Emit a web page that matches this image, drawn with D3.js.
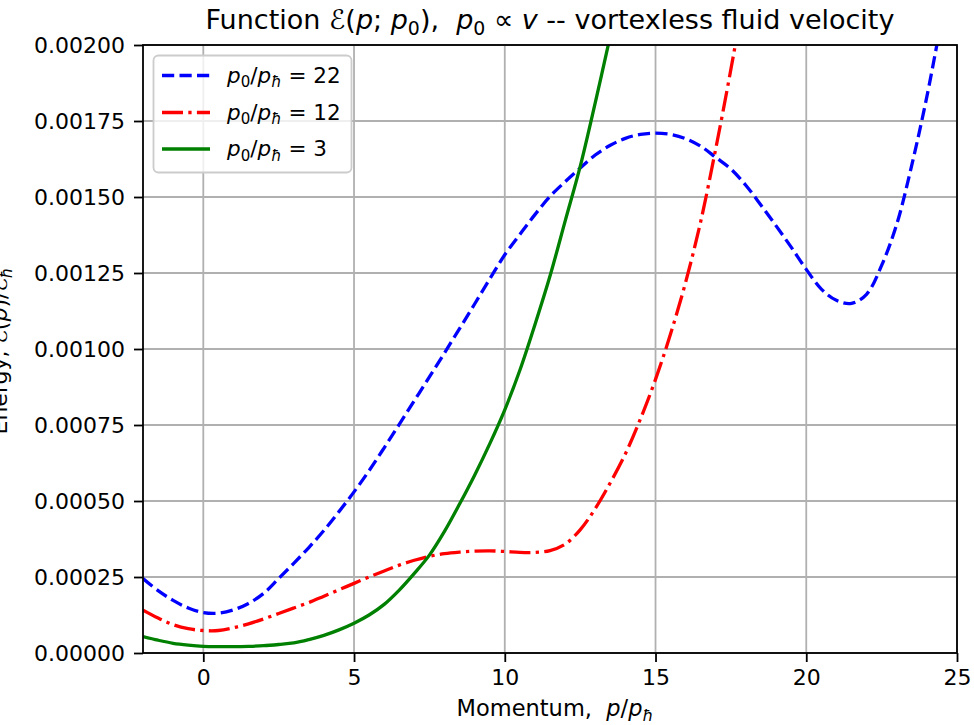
<!DOCTYPE html>
<html>
<head>
<meta charset="utf-8">
<script src="https://cdn.jsdelivr.net/npm/d3@7"></script>
<style>
  html, body { margin: 0; padding: 0; background: #fff; }
  svg { display: block; font-family: "DejaVu Sans", sans-serif; }
</style>
</head>
<body>
<svg id="chart" width="974" height="725"></svg>
<script>
// ---------- DATA ----------
const momentum = [-2,-1.5,-1,-0.5,0,0.5,1,1.5,2,2.5,3,3.5,4,4.5,5,5.5,6,6.5,7,7.5,8,8.5,9,9.5,10,10.5,11,11.5,12,12.5,13,13.5,14,14.5,15,15.5,16,16.5,17,17.5,18,18.5,19,19.5,20,20.5,21,21.5,22,22.5,23,23.5,24,24.5];

const energy22 = [0.000245,0.000205,0.000173,0.000148,0.000133,0.000131,0.000142,0.000163,0.000196,0.000245,0.000295,0.000347,0.000403,0.000465,0.000530,0.000600,0.000675,0.000752,0.000830,0.000908,0.000987,0.001067,0.001148,0.001230,0.001310,0.001377,0.001442,0.001502,0.001550,0.001595,0.001638,0.001670,0.001693,0.001706,0.001710,0.001706,0.001692,0.001667,0.001630,0.001592,0.001538,0.001473,0.001405,0.001335,0.001262,0.001197,0.001160,0.001150,0.001180,0.001275,0.001410,0.001605,0.001830,0.002090];

const momentum12 = momentum.filter(v => v <= 18);
const energy12 = [0.000141,0.000115,0.000093,0.000080,0.000074,0.000074,0.000083,0.000096,0.000112,0.000130,0.000148,0.000166,0.000187,0.000208,0.000229,0.000250,0.000270,0.000289,0.000305,0.000318,0.000327,0.000332,0.000335,0.000336,0.000334,0.000331,0.000331,0.000337,0.000358,0.000405,0.000475,0.000560,0.000655,0.000770,0.000900,0.001050,0.001220,0.001420,0.001660,0.001920,0.002200];

const momentum3 = momentum.filter(v => v <= 13.5);
const energy3 = [0.000054,0.000042,0.000032,0.000026,0.000022,0.000021,0.000021,0.000022,0.000024,0.000028,0.000033,0.000044,0.000058,0.000076,0.000098,0.000125,0.000160,0.000207,0.000262,0.000322,0.000400,0.000490,0.000585,0.000688,0.000800,0.000930,0.001080,0.001240,0.001420,0.001600,0.001810,0.002030];

const xTicks = [0,5,10,15,20,25];
const yTicks = [0,0.00025,0.0005,0.00075,0.001,0.00125,0.0015,0.00175,0.002];

const seriesLabels = ["22","12","3"];
const seriesColors = ["#0000ff","#ff0000","#008000"];

// ---------- LAYOUT ----------
const W = 974, H = 725;
const M = {left: 143, right: 17, top: 45, bottom: 72};
const pw = W - M.left - M.right, ph = H - M.top - M.bottom;
const LW = 3.3;
const NB = "\u00a0";

const svg = d3.select("#chart");
const x = d3.scaleLinear().domain([-2, 25]).range([M.left, M.left + pw]);
const y = d3.scaleLinear().domain([0, 0.002]).range([M.top + ph, M.top]);

svg.append("defs").append("clipPath").attr("id","clip")
  .append("rect").attr("x", M.left).attr("y", M.top).attr("width", pw).attr("height", ph);

// grid
const grid = svg.append("g").attr("stroke","#b0b0b0").attr("stroke-width",1.8);
grid.selectAll("line.vx").data(xTicks).join("line")
  .attr("x1", d => x(d)).attr("x2", d => x(d)).attr("y1", M.top).attr("y2", M.top + ph);
grid.selectAll("line.hy").data(yTicks).join("line")
  .attr("y1", d => y(d)).attr("y2", d => y(d)).attr("x1", M.left).attr("x2", M.left + pw);

// curves
const series = [
  {xs: momentum, ys: energy22, color: seriesColors[0], dash: "12.2,5.3"},
  {xs: momentum12, ys: energy12, color: seriesColors[1], dash: "21,5.3,3.3,5.3"},
  {xs: momentum3, ys: energy3, color: seriesColors[2], dash: null}
];
const line = d3.line().x(d => x(d[0])).y(d => y(d[1])).curve(d3.curveCatmullRom.alpha(0.5));
const gc = svg.append("g").attr("clip-path","url(#clip)");
series.forEach(s => {
  gc.append("path")
    .datum(s.xs.map((v,i) => [v, s.ys[i]]))
    .attr("d", line)
    .attr("fill","none")
    .attr("stroke", s.color)
    .attr("stroke-width", LW)
    .attr("stroke-linecap","butt")
    .attr("stroke-linejoin","round")
    .attr("stroke-dasharray", s.dash);
});

// axes
const xAxis = d3.axisBottom(x).tickValues(xTicks).tickSize(9).tickPadding(7).tickFormat(d3.format("d"));
const yAxis = d3.axisLeft(y).tickValues(yTicks).tickSize(9).tickPadding(9).tickFormat(d3.format(".5f"));
const gx = svg.append("g").attr("transform", `translate(0,${M.top + ph})`).call(xAxis);
const gy = svg.append("g").attr("transform", `translate(${M.left},0)`).call(yAxis);
[gx, gy].forEach(g => {
  g.select(".domain").remove();
  g.selectAll(".tick line").attr("stroke","#000").attr("stroke-width",1.8);
  g.selectAll(".tick text").attr("fill","#000").attr("font-size", 22).attr("font-family","DejaVu Sans");
});

// spines
svg.append("rect").attr("x", M.left).attr("y", M.top).attr("width", pw).attr("height", ph)
  .attr("fill","none").attr("stroke","#000").attr("stroke-width",1.8);

// rich text helper
function rich(sel, parts, size) {
  parts.forEach(p => {
    const t = sel.append("tspan").text(p.t);
    if (p.i) t.attr("font-style","italic");
    if (p.sub) {
      t.attr("font-size", size * 0.7).attr("dy", size * 0.22);
    } else if (p.after) {
      t.attr("dy", -size * 0.22);
    }
  });
}

// title
const TS = 27;
const title = svg.append("text").attr("x", M.left + pw/2).attr("y", 29)
  .attr("text-anchor","middle").attr("font-size", TS).attr("fill","#000");
rich(title, [
  {t:"Function "}, {t:"ℰ"}, {t:"("}, {t:"p", i:true}, {t:"; "}, {t:"p", i:true},
  {t:"0", sub:true}, {t:")," + NB + NB, after:true}, {t:"p", i:true}, {t:"0", sub:true},
  {t:" ∝ ", after:true}, {t:"v", i:true}, {t:" -- vortexless fluid velocity"}
], TS);

// x label
const XS = 22.5;
const xl = svg.append("text").attr("x", M.left + pw/2 + 5).attr("y", 716)
  .attr("text-anchor","middle").attr("font-size", XS).attr("fill","#000");
rich(xl, [{t:"Momentum," + NB + NB}, {t:"p", i:true}, {t:"/"}, {t:"p", i:true}, {t:"ħ", sub:true, i:true}], XS);

// y label (clipped at left edge as in reference)
const YS = 22;
const yl = svg.append("text").attr("transform","translate(7,351) rotate(-90)")
  .attr("text-anchor","middle").attr("font-size", YS).attr("fill","#000");
rich(yl, [{t:"Energy, "}, {t:"ℰ"}, {t:"("}, {t:"p", i:true}, {t:")/"}, {t:"ℰ"}, {t:"ħ", sub:true, i:true}], YS);

// legend
const lg = svg.append("g");
lg.append("rect").attr("x",153.5).attr("y",55.5).attr("width",198).attr("height",117).attr("rx",5)
  .attr("fill","#fff").attr("fill-opacity",0.8).attr("stroke","#cccccc").attr("stroke-width",1.8);
const rowsY = [75.5, 112.5, 149];
const LS = 21.5;
series.forEach((s, i) => {
  lg.append("line").attr("x1",162).attr("x2",210).attr("y1",rowsY[i]).attr("y2",rowsY[i])
    .attr("stroke", s.color).attr("stroke-width", LW).attr("stroke-dasharray", s.dash);
  const t = lg.append("text").attr("x",227).attr("y",rowsY[i] + 7).attr("font-size",LS).attr("fill","#000");
  rich(t, [{t:"p", i:true}, {t:"0", sub:true}, {t:"/", after:true}, {t:"p", i:true}, {t:"ħ", sub:true, i:true}, {t:" = " + seriesLabels[i], after:true}], LS);
});
</script>
</body>
</html>
